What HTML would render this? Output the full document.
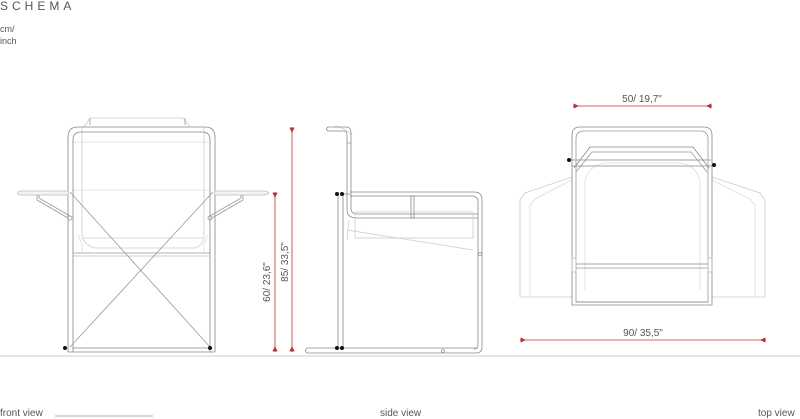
<!DOCTYPE html>
<html><head><meta charset="utf-8"><style>
html,body{margin:0;padding:0;background:#fff;width:800px;height:419px;overflow:hidden}
svg{display:block}
text{font-family:"Liberation Sans",sans-serif;fill:#555}
</style></head><body>
<svg width="800" height="419" viewBox="0 0 800 419" xmlns="http://www.w3.org/2000/svg">
<text x="0" y="10" font-size="12" letter-spacing="4" fill="#666">SCHEMA</text>
<text x="0" y="32" font-size="9">cm/</text>
<text x="0" y="44" font-size="9">inch</text>

<line x1="0" y1="356" x2="800" y2="356" stroke="#ccc" stroke-width="1"/>

<!-- FRONT VIEW -->
<g fill="none" stroke-width="0.8">
 <path d="M84 127 L90 118 L183 118 L190 127" stroke="#ccc"/>
 <line x1="90" y1="118" x2="90" y2="125" stroke="#999"/>
 <line x1="185" y1="118" x2="185" y2="125" stroke="#999"/>
 <line x1="73" y1="142" x2="210" y2="142" stroke="#ddd"/>
 <path d="M82 127 L82 237 Q85 245 95 248 L195 248 Q203 245 204 237 L204 127" stroke="#ccc"/>
 <path d="M78 235 L82 244 L82 252 M208 235 L204 244 L204 252" stroke="#ddd"/>
 <line x1="82" y1="238" x2="204" y2="238" stroke="#ccc"/>
 <line x1="73" y1="190" x2="210" y2="190" stroke="#ddd"/>
 <path d="M68 352 L68 137 Q68 127 78 127 L205 127 Q215 127 215 137 L215 352" stroke="#888"/>
 <path d="M73 352 L73 140 Q73 132 81 132 L202 132 Q210 132 210 140 L210 352" stroke="#888"/>
 <line x1="73" y1="253" x2="210" y2="253" stroke="#999"/>
 <line x1="73" y1="256" x2="210" y2="256" stroke="#bbb"/>
 <line x1="73" y1="348" x2="210" y2="348" stroke="#888"/>
 <line x1="68" y1="352" x2="215" y2="352" stroke="#888"/>
 <line x1="70" y1="192" x2="210" y2="347" stroke="#999"/>
 <line x1="213" y1="192" x2="70" y2="347" stroke="#999"/>
 <path d="M68 191 L20 191 Q15 193 20 195 L68 195" stroke="#bbb" fill="#f4f4f4"/>
 <path d="M215 191 L265 191 Q272 193 265 195 L215 195" stroke="#bbb" fill="#f4f4f4"/>
 <path d="M37 195 L37 200 L68 218 M39 195 L39 198 L70 216" stroke="#999"/>
 <path d="M243 195 L243 200 L212 218 M241 195 L241 198 L210 216" stroke="#999"/>
 <circle cx="70" cy="218" r="2" stroke="#999"/>
 <circle cx="210" cy="218" r="2" stroke="#999"/>
</g>
<circle cx="65" cy="348" r="2" fill="#111"/>
<circle cx="210" cy="348" r="2" fill="#111"/>

<g stroke="#b33" stroke-width="0.8" fill="#b33">
 <line x1="275" y1="192" x2="275" y2="352"/>
 <path d="M273 193 L277 193 L275 197Z M273 351 L277 351 L275 347Z"/>
 <line x1="292" y1="127" x2="292" y2="352"/>
 <path d="M290 128 L294 128 L292 132Z M290 351 L294 351 L292 347Z"/>
 <line x1="573" y1="106" x2="712" y2="106"/>
 <path d="M574 104 L574 108 L578 106Z M711 104 L711 108 L707 106Z"/>
 <line x1="520" y1="340" x2="766" y2="340"/>
 <path d="M521 338 L521 342 L525 340Z M765 338 L765 342 L761 340Z"/>
</g>
<text transform="translate(270 282) rotate(-90)" font-size="10" text-anchor="middle">60/ 23,6"</text>
<text transform="translate(288 262) rotate(-90)" font-size="10" text-anchor="middle">85/ 33,5"</text>
<text x="642" y="102" font-size="10" text-anchor="middle">50/ 19,7"</text>
<text x="643" y="336" font-size="10" text-anchor="middle">90/ 35,5"</text>

<!-- SIDE VIEW -->
<g fill="none" stroke-width="0.8">
 <path d="M335 126 Q345 128 352 135" stroke="#ccc"/>
 <path d="M328 127 L346 127 Q351 127 351 133 L351 208 Q351 214 357 214 L478 214" stroke="#888"/>
 <path d="M328 131 L344 131 Q347 131 347 135 L347 210 Q347 217 355 218 L478 218" stroke="#888"/>
 <path d="M328 127 Q325 129 328 131" stroke="#888"/>
 <line x1="347" y1="143" x2="351" y2="143" stroke="#999"/>
 <path d="M350 192 L474 192 Q482 192 482 200 L482 347 Q482 353 476 353" stroke="#888"/>
 <path d="M350 196 L472 196 Q478 196 478 202 L478 345 Q478 349 474 349" stroke="#888"/>
 <rect x="411" y="196" width="3" height="22" stroke="#888"/>
 <rect x="355" y="212" width="118" height="26" stroke="#ccc"/>
 <path d="M347 230 Q410 240 473 250" stroke="#ccc"/>
 <path d="M349 220 L347 240" stroke="#ccc"/>
 <line x1="338" y1="194" x2="338" y2="348" stroke="#888"/>
 <line x1="343" y1="194" x2="343" y2="348" stroke="#888"/>
 <line x1="343" y1="194" x2="350" y2="194" stroke="#888"/>
 <path d="M476 353 L307 353 Q304 351 307 348 L476 348" stroke="#888"/>
 <circle cx="480" cy="254" r="1.5" stroke="#999"/>
 <circle cx="443" cy="351" r="1.5" stroke="#999"/>
</g>
<circle cx="337" cy="194" r="2" fill="#111"/>
<circle cx="342" cy="194" r="2" fill="#111"/>
<circle cx="337" cy="348" r="2" fill="#111"/>
<circle cx="342" cy="348" r="2" fill="#111"/>

<!-- TOP VIEW -->
<g fill="none" stroke-width="0.8">
 <path d="M572 177 L525 193 L520 200 L520 297 L572 297" stroke="#ccc"/>
 <path d="M572 180 L535 199 L530 205 L530 297" stroke="#ddd"/>
 <path d="M712 177 L760 193 L765 200 L765 297 L712 297" stroke="#ccc"/>
 <path d="M712 180 L750 199 L755 205 L755 297" stroke="#ddd"/>
 <path d="M585 180 Q590 165 605 163 L680 163 Q695 165 700 180 L700 290 M585 180 L585 290" stroke="#ddd"/>
 <path d="M572 305 L572 135 Q572 127 580 127 L704 127 Q712 127 712 135 L712 305 Z" stroke="#888"/>
 <path d="M576 302 L576 139 Q576 131 584 131 L700 131 Q708 131 708 139 L708 302 Z" stroke="#999"/>
 <path d="M574 168 L590 147 L693 147 L709 168" stroke="#888"/>
 <path d="M576 172 L592 152 L691 152 L707 172" stroke="#999"/>
 <line x1="568" y1="160" x2="711" y2="160" stroke="#888"/>
 <line x1="572" y1="166" x2="712" y2="166" stroke="#888"/>
 <line x1="576" y1="264" x2="708" y2="264" stroke="#888"/>
 <line x1="576" y1="268" x2="708" y2="268" stroke="#999"/>
 <line x1="576" y1="302" x2="708" y2="302" stroke="#888"/>
 <rect x="572" y="258" width="4" height="14" stroke="#bbb"/>
 <rect x="708" y="258" width="4" height="14" stroke="#bbb"/>
</g>
<circle cx="569" cy="160" r="2" fill="#111"/>
<circle cx="714" cy="165" r="2" fill="#111"/>

<text x="0" y="416" font-size="10">front view</text>
<line x1="55" y1="416" x2="153" y2="416" stroke="#999" stroke-width="0.7"/>
<text x="380" y="416" font-size="10">side view</text>
<text x="758" y="416" font-size="10">top view</text>
</svg>
</body></html>
